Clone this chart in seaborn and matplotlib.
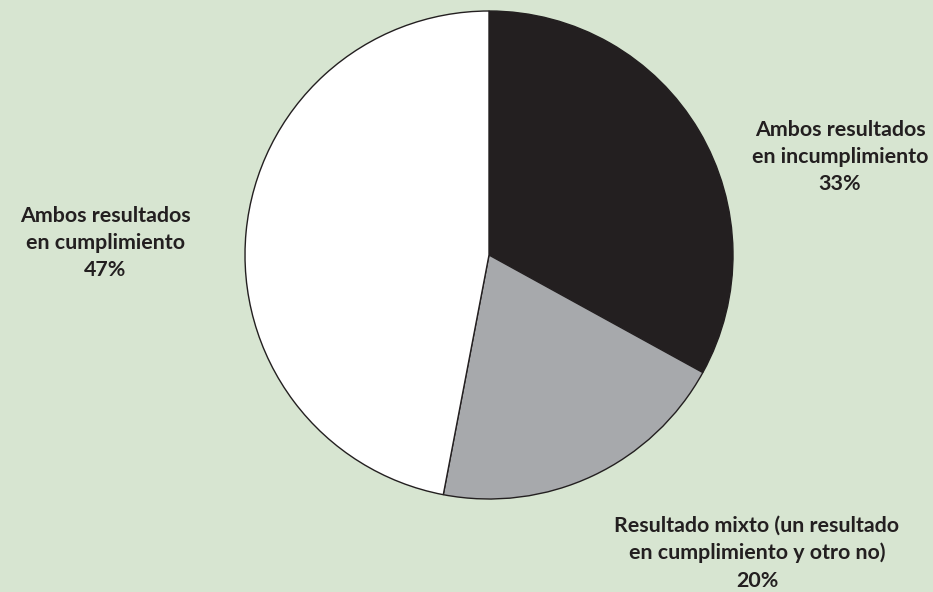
import matplotlib
matplotlib.use("Agg")
import matplotlib.pyplot as plt
import seaborn as sns

# Resultados de cumplimiento
categorias = [
    "Ambos resultados\nen incumplimiento",
    "Resultado mixto (un resultado\nen cumplimiento y otro no)",
    "Ambos resultados\nen cumplimiento",
]
porcentajes = [33, 20, 47]
colores = ["#231f20", "#a7a9ac", "#ffffff"]

sns.set_theme(style="white")
plt.rcParams["font.family"] = ["Lato", "DejaVu Sans"]

W, H = 933, 592
fig = plt.figure(figsize=(W / 100, H / 100), dpi=100)
fig.patch.set_facecolor("#d7e5d1")

cx, cy, r = 489, 255, 244
ax = fig.add_axes([(cx - r) / W, (H - cy - r) / H, 2 * r / W, 2 * r / H])
ax.set_facecolor("none")
ax.pie(
    porcentajes,
    colors=colores,
    startangle=90,
    counterclock=False,
    radius=1,
    wedgeprops=dict(edgecolor="#231f20", linewidth=1.0),
)
ax.set_xlim(-1, 1)
ax.set_ylim(-1, 1)
ax.set_aspect("equal")
ax.axis("off")

# Etiquetas de cada sector
posiciones = [(840, 157), (757, 553), (105, 243)]
for cat, pct, (px, py) in zip(categorias, porcentajes, posiciones):
    fig.text(px / W, 1 - py / H, f"{cat}\n{pct}%", ha="center", va="center",
             fontsize=15.4, fontweight="bold", color="#231f20",
             linespacing=1.45)

fig.savefig("out.png", dpi=100, facecolor=fig.get_facecolor())
